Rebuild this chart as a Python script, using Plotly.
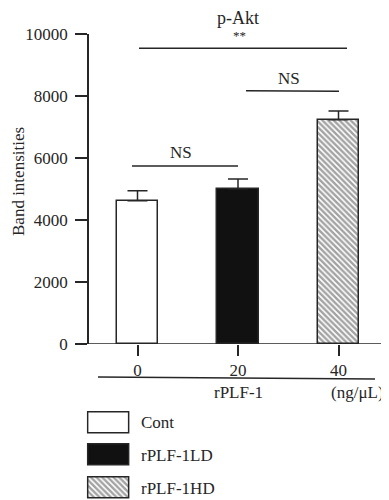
import plotly.graph_objects as go

# ---- data ----
groups = ["Cont", "rPLF-1LD", "rPLF-1HD"]
doses = ["0", "20", "40"]
means = [4620, 5010, 7230]
errors = [320, 310, 290]
y_ticks = [0, 2000, 4000, 6000, 8000, 10000]
y_tick_text = ["0", "2000", "4000", "6000", "8000", "10000"]

OFF = 8  # default page body margin
W, H = 389 - OFF, 500 - OFF
FONT = "Liberation Serif"
INK = "#262626"

def PX(px):
    return (px - OFF) / W

def PY(py):
    return 1 - (py - OFF) / H

fill_colors = ["white", "#111111", "white"]
patterns = ["", "", "\\"]
pat = dict(shape=patterns, size=4, solidity=0.6,
           fgcolor="#1a1a1a", bgcolor="white", fillmode="overlay")

fig = go.Figure()

fig.add_trace(go.Bar(
    x=[0, 1, 2], y=means, width=0.41,
    marker=dict(color=fill_colors, line=dict(color=INK, width=1.5), pattern=pat),
    error_y=dict(type="data", array=errors, arrayminus=[0, 0, 0], symmetric=False,
                 thickness=1.5, width=10, color=INK),
    showlegend=False, hoverinfo="skip",
))

# legend swatches as a tiny horizontal bar chart
fig.add_trace(go.Bar(
    x=[1, 1, 1], y=[0, 1, 2], base=0, orientation="h", width=0.64,
    xaxis="x2", yaxis="y2",
    marker=dict(color=fill_colors, line=dict(color=INK, width=1.5), pattern=pat),
    showlegend=False, hoverinfo="skip", cliponaxis=False,
))

px_per_cat = 100.5
x0_px = 137.5
def xc(px):
    return (px - x0_px) / px_per_cat

tf = dict(family=FONT, size=17, color=INK)
fig.update_layout(
    width=W, height=H,
    margin=dict(l=0, r=0, t=0, b=0, autoexpand=False),
    paper_bgcolor="white", plot_bgcolor="white",
    font=dict(family=FONT, size=17, color=INK),
    xaxis=dict(domain=[PX(89), PX(385)], range=[xc(89), xc(385)], automargin=False,
               tickvals=[0, 1, 2], ticktext=doses, ticks="outside", ticklen=11,
               tickwidth=1.5, tickcolor=INK, showline=False, zeroline=False,
               showgrid=False, tickfont=tf, fixedrange=True),
    yaxis=dict(domain=[PY(344), PY(34)], range=[0, 10000], automargin=False,
               tickvals=y_ticks, ticktext=y_tick_text, ticks="outside", ticklen=12,
               tickwidth=1.5, tickcolor=INK, showline=True, linewidth=1.5, linecolor=INK,
               zeroline=False, showgrid=False, ticklabelstandoff=4,
               tickfont=tf, fixedrange=True),
    xaxis2=dict(domain=[PX(86.4), PX(130.6)], range=[-0.04, 1.04], visible=False,
                anchor="y2", automargin=False),
    yaxis2=dict(domain=[PY(499.7), PY(410.6)], range=[2.35, -0.37], visible=False,
                anchor="x2", automargin=False),
    bargap=0,
)

line = dict(color=INK, width=1.5)
shapes = [
    dict(type="line", xref="paper", yref="y", x0=PX(77), x1=PX(385), y0=0, y1=0, line=line),
    dict(type="line", xref="x", yref="y", x0=xc(139), x1=xc(347), y0=9540, y1=9540, line=line),
    dict(type="line", xref="x", yref="y", x0=xc(246), x1=xc(339), y0=8170, y1=8150, line=line),
    dict(type="line", xref="x", yref="y", x0=xc(132), x1=xc(238), y0=5740, y1=5740, line=line),
    dict(type="line", xref="x", yref="paper", x0=xc(98), x1=xc(375),
         y0=PY(377), y1=PY(379), line=line),
]
fig.update_layout(shapes=shapes)

ann = [
    dict(text="p-Akt", x=xc(238), y=PY(18), size=18),
    dict(text="**", x=xc(239), y=PY(35), size=13),
    dict(text="NS", x=xc(289), y=PY(78), size=17),
    dict(text="NS", x=xc(181), y=PY(153), size=17),
    dict(text="rPLF-1", x=xc(238), y=PY(392), size=17),
    dict(text="(ng/μL)", x=xc(357), y=PY(392), size=17),
]
annotations = []
for a in ann:
    annotations.append(dict(text=a["text"], xref="x", yref="paper", x=a["x"], y=a["y"],
                            xanchor="center", yanchor="middle", showarrow=False,
                            font=dict(family=FONT, size=a["size"], color=INK)))
annotations.append(dict(text="Band intensities", xref="paper", yref="paper", x=PX(18),
                        y=PY(182), textangle=-90, xanchor="center", yanchor="middle",
                        showarrow=False, font=dict(family=FONT, size=17, color=INK)))
legend_y = [422.5, 455.5, 488]
for g, ly in zip(groups, legend_y):
    annotations.append(dict(text=g, xref="paper", yref="paper", x=PX(139), y=PY(ly),
                            xanchor="left", yanchor="middle", showarrow=False,
                            font=dict(family=FONT, size=17, color=INK)))
fig.update_layout(annotations=annotations)

fig.write_html("out.html")
